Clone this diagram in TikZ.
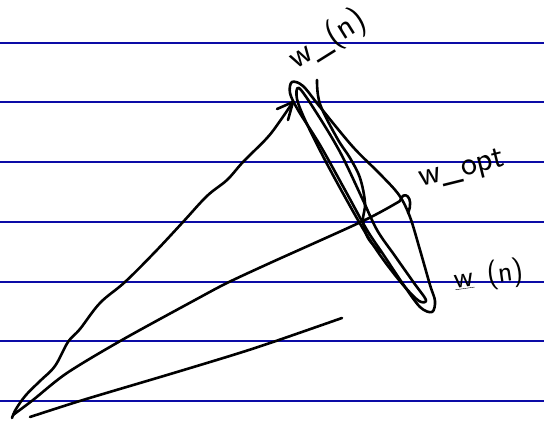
\documentclass[tikz,border=0pt]{standalone}
\usepackage{tikz}
\usetikzlibrary{calc}
\definecolor{ruleblue}{RGB}{12,12,166}

\begin{document}
\begin{tikzpicture}[
  x=1pt, y=-1pt,
  rule/.style={draw=ruleblue, line width=2pt},
  ink/.style={draw, line width=2.6pt, line cap=round, line join=round},
  hand/.style={font=\sffamily\fontsize{34}{34}\selectfont, inner sep=0pt}]

\useasboundingbox (0,0) rectangle (544,422);
\fill[white] (0,0) rectangle (544,422);
\clip (0,0) rectangle (544,422);

% ================= ruled paper ============================================
\foreach \y in {43,102,162,222,282,341,401}
  {\draw[rule] (0,\y)--(544,\y);}

% ================= the three rays =========================================
\coordinate (origin) at (12,418);
\coordinate (wn) at (293,102);
\coordinate (wopt) at (400,201);
\coordinate (cross) at (363,221);

% wavy ray up to w(n), with a hand-drawn tip
\draw[ink] plot[smooth, tension=0.6] coordinates {(origin) (16,409) (26,395) (40,381)
  (55,366) (68,342) (80,329) (100,303) (125,282) (155,252) (183,222) (207,196)
  (227,180) (243,162) (267,138) (280,121) (wn)};
\draw[ink] (wn)--++(-16,7);
\draw[ink] (wn)--++(-5,18);

% ray to w_opt
\draw[ink] plot[smooth, tension=0.5] coordinates {(13,415) (33,400) (67,373)
  (122,340) (195,300) (227,283) (270,263) (cross) (wopt)};

% short ray at the bottom
\draw[ink] plot[smooth, tension=0.5] coordinates {(30,417) (83,400) (167,375)
  (233,355) (273,342) (342,318)};

% ================= error ellipses =========================================
\draw[ink] plot[smooth cycle, tension=0.55] coordinates {(292,82) (303,86) (320,107)
  (353,147) (380,174) (399,195) (410,217) (420,250) (430,285) (435,301) (432,312)
  (420,307) (403,284) (383,254) (367,230) (345,190) (320,145) (298,110) (290,93)};
\draw[ink] plot[smooth cycle, tension=0.55] coordinates {(299,88) (316,112)
  (340,152) (362,198) (377,230) (395,256) (414,283) (426,300) (419,301) (404,286)
  (385,262) (368,237) (350,206) (326,162) (306,122) (297,99)};
\draw[ink] plot[smooth, tension=0.6] coordinates {(317,80) (320,104) (337,138)
  (350,158) (360,178) (365,203) (cross) (368,238) (380,252)};

% little loop marking w_opt
\draw[ink] (wopt) .. controls (403,189) and (415,197) .. (408,213);

% ================= labels =================================================
\node[hand, rotate=32] (lwn) at (328,40) {w\_(n)};
\node[hand, rotate=14] (lwopt) at (462,170) {w\_opt};
\node[hand, font=\sffamily\fontsize{30}{30}\selectfont, anchor=west, rotate=8]
  (lwbar) at (454,281) {\underline{w}\ \,(n)};

\end{tikzpicture}
\end{document}
